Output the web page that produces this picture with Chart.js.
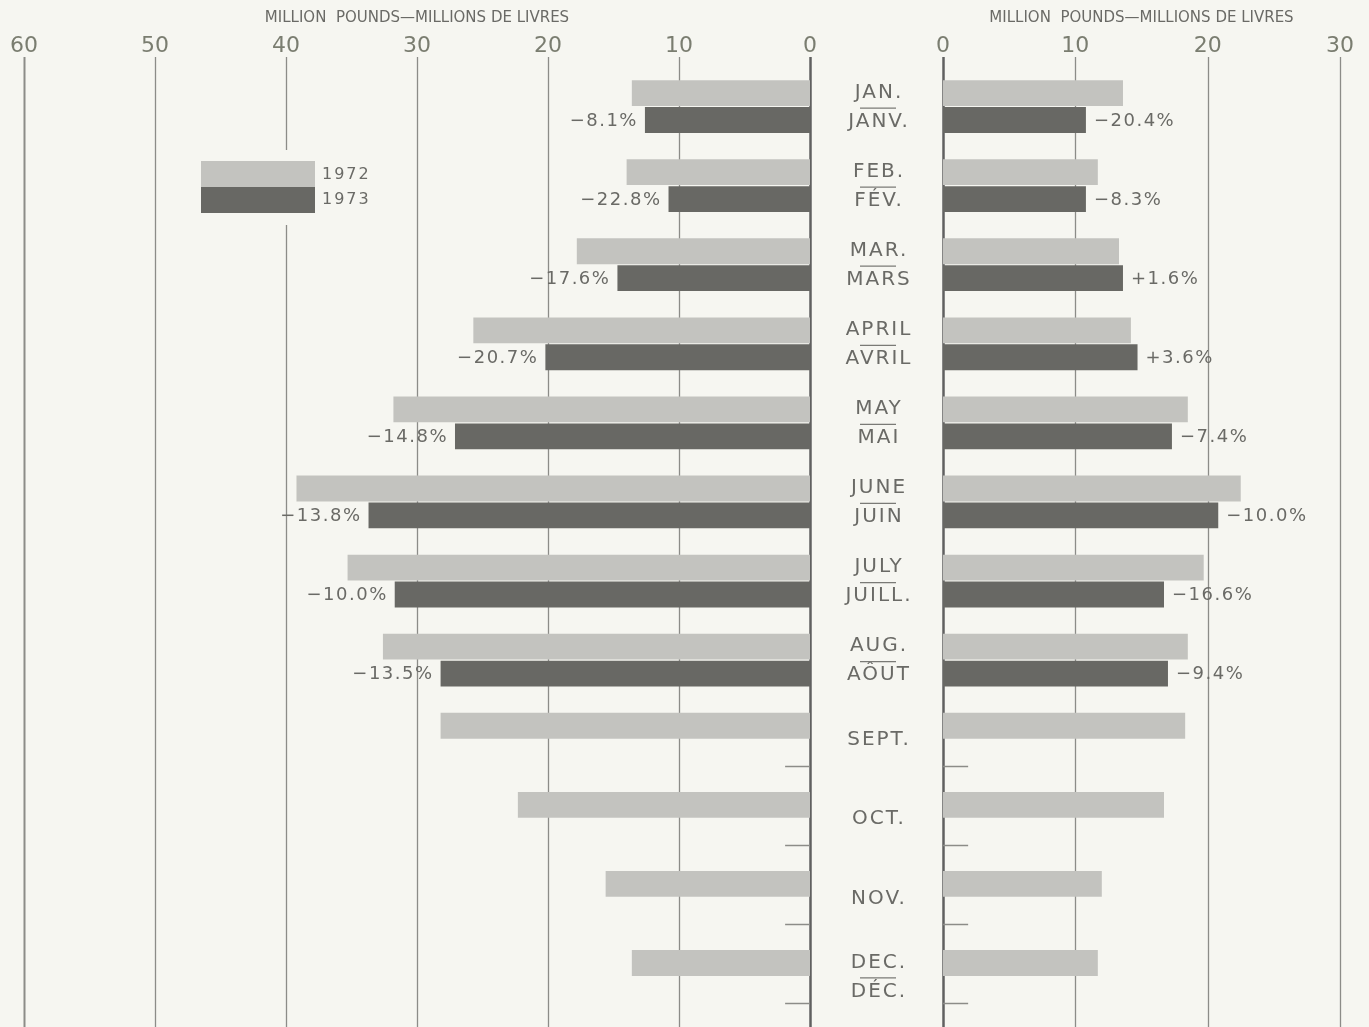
<!DOCTYPE html>
<html>
<head>
<meta charset="utf-8">
<script src="https://cdn.jsdelivr.net/npm/chart.js@4"></script>
<style>
  html, body { margin: 0; padding: 0; background: #f6f6f1; }
  body { width: 1369px; height: 1027px; position: relative; overflow: hidden; }
  canvas { position: absolute; top: 0; }
  #chartLeft { left: 0; }
  #chartRight { left: 876px; }
</style>
</head>
<body>
<canvas id="chartLeft" width="943" height="1027"></canvas>
<canvas id="chartRight" width="493" height="1027"></canvas>
<script>
// data (million pounds)
var monthsEn = ['JAN.', 'FEB.', 'MAR.', 'APRIL', 'MAY', 'JUNE', 'JULY', 'AUG.', 'SEPT.', 'OCT.', 'NOV.', 'DEC.'];
var monthsFr = ['JANV.', 'FÉV.', 'MARS', 'AVRIL', 'MAI', 'JUIN', 'JUILL.', 'AÔUT', '', '', '', 'DÉC.'];

var left1972 = [13.6, 14.0, 17.8, 25.7, 31.8, 39.2, 35.3, 32.6, 28.2, 22.3, 15.6, 13.6];
var left1973 = [12.6, 10.8, 14.7, 20.2, 27.1, 33.7, 31.7, 28.2, null, null, null, null];
var leftPct = ['−8.1%', '−22.8%', '−17.6%', '−20.7%', '−14.8%', '−13.8%', '−10.0%', '−13.5%'];

var right1972 = [13.6, 11.7, 13.3, 14.2, 18.5, 22.5, 19.7, 18.5, 18.3, 16.7, 12.0, 11.7];
var right1973 = [10.8, 10.8, 13.6, 14.7, 17.3, 20.8, 16.7, 17.0, null, null, null, null];
var rightPct = ['−20.4%', '−8.3%', '+1.6%', '+3.6%', '−7.4%', '−10.0%', '−16.6%', '−9.4%'];

var leftTicks = [0, 10, 20, 30, 40, 50, 60];
var rightTicks = [0, 10, 20, 30];
var legendYears = ['1972', '1973'];

var axisTitle = 'MILLION  POUNDS—MILLIONS DE LIVRES';
var light = '#c3c3bf';
var dark = '#686864';
var textCol = '#6a6a66';
var tickCol = '#7a7d70';
var fontFam = '"DejaVu Sans", sans-serif';

// grid lines drawn behind the bars, longer than the plot area
const gridPlugin = {
  id: 'gridPlugin',
  beforeDatasetsDraw(chart, args, opts) {
    const ctx = chart.ctx;
    const x = chart.scales.x;
    ctx.save();
    opts.ticks.forEach(v => {
      const px = Math.round(x.getPixelForValue(v)) + 0.5;
      ctx.beginPath();
      if (v === 0) {
        ctx.strokeStyle = '#606060';
        ctx.lineWidth = 2.5;
      } else {
        ctx.strokeStyle = '#8c8c88';
        ctx.lineWidth = v === 60 ? 2 : 1.3;
      }
      ctx.moveTo(px, 57);
      ctx.lineTo(px, 1027);
      ctx.stroke();
    });
    // short marks where the 1973 bar is missing
    const y = chart.scales.y;
    const band = (y.getPixelForValue(1) - y.getPixelForValue(0));
    ctx.strokeStyle = '#8c8c88';
    ctx.lineWidth = 1.5;
    chart.data.datasets[1].data.forEach((d, i) => {
      if (d === null) {
        const py = Math.round(y.getPixelForValue(i) + band * 0.34) + 0.5;
        ctx.beginPath();
        ctx.moveTo(x.getPixelForValue(0), py);
        ctx.lineTo(x.getPixelForValue(1.9), py);
        ctx.stroke();
      }
    });
    ctx.restore();
  }
};

// percent change beside the 1973 bars
const pctPlugin = {
  id: 'pctPlugin',
  afterDatasetsDraw(chart, args, opts) {
    const ctx = chart.ctx;
    const meta = chart.getDatasetMeta(1);
    ctx.save();
    ctx.font = '18px ' + fontFam;
    ctx.fillStyle = textCol;
    ctx.textBaseline = 'middle';
    ctx.letterSpacing = '1.5px';
    meta.data.forEach((bar, i) => {
      if (!opts.labels[i]) return;
      if (opts.side === 'left') {
        ctx.textAlign = 'right';
        ctx.fillText(opts.labels[i], bar.x - 7, bar.y + 1);
      } else {
        ctx.textAlign = 'left';
        ctx.fillText(opts.labels[i], bar.x + 8, bar.y + 1);
      }
    });
    ctx.restore();
  }
};

// month names in the centre strip and legend box
const monthPlugin = {
  id: 'monthPlugin',
  afterDraw(chart) {
    const ctx = chart.ctx;
    const y = chart.scales.y;
    const cx = 878;
    ctx.save();
    ctx.font = '20px ' + fontFam;
    ctx.fillStyle = textCol;
    ctx.strokeStyle = '#7a7a76';
    ctx.lineWidth = 1.2;
    ctx.textAlign = 'center';
    ctx.textBaseline = 'middle';
    ctx.letterSpacing = '2px';
    monthsEn.forEach((m, i) => {
      const py = y.getPixelForValue(i);
      if (monthsFr[i]) {
        ctx.fillText(m, cx + 1, py - 14);
        ctx.fillText(monthsFr[i], cx + 1, py + 15);
        ctx.beginPath();
        ctx.moveTo(cx - 18, py + 1.5);
        ctx.lineTo(cx + 18, py + 1.5);
        ctx.stroke();
      } else {
        ctx.fillText(m, cx + 1, py + 1);
      }
    });

    // legend
    ctx.fillStyle = '#f6f6f1';
    ctx.fillRect(270, 150, 34, 75);
    ctx.fillStyle = light;
    ctx.fillRect(201, 161, 114, 26);
    ctx.fillStyle = dark;
    ctx.fillRect(201, 187, 114, 26);
    ctx.font = '16px ' + fontFam;
    ctx.letterSpacing = '2px';
    ctx.fillStyle = textCol;
    ctx.textAlign = 'left';
    ctx.fillText(legendYears[0], 322, 175);
    ctx.fillText(legendYears[1], 322, 200);
    ctx.restore();
  }
};

function makeChart(id, d72, d73, maxV, tickList, pctLabels, side, pad, extra) {
  return new Chart(document.getElementById(id), {
    type: 'bar',
    data: {
      labels: monthsEn,
      datasets: [
        { label: legendYears[0], data: d72, backgroundColor: light },
        { label: legendYears[1], data: d73, backgroundColor: dark }
      ]
    },
    options: {
      indexAxis: 'y',
      responsive: false,
      animation: false,
      devicePixelRatio: 1,
      categoryPercentage: 0.68,
      barPercentage: 0.96,
      layout: { padding: pad },
      scales: {
        x: {
          type: 'linear',
          position: 'top',
          reverse: side === 'left',
          min: 0,
          max: maxV,
          afterFit: s => { s.height = 67; },
          border: { display: false },
          grid: { display: false, drawTicks: false },
          ticks: {
            stepSize: 10,
            color: tickCol,
            padding: 8,
            font: { size: 22, family: fontFam }
          },
          title: {
            display: true,
            text: axisTitle,
            color: textCol,
            font: { size: 15, family: fontFam },
            padding: { top: 9, bottom: 0 }
          }
        },
        y: { display: false }
      },
      plugins: {
        legend: { display: false },
        tooltip: { enabled: false },
        gridPlugin: { ticks: tickList },
        pctPlugin: { labels: pctLabels, side: side }
      }
    },
    plugins: [gridPlugin, pctPlugin].concat(extra)
  });
}

makeChart('chartLeft', left1972, left1973, 60, leftTicks, leftPct, 'left',
  { left: 24, right: 133, top: 0, bottom: 11 }, [monthPlugin]);
makeChart('chartRight', right1972, right1973, 30, rightTicks, rightPct, 'right',
  { left: 67, right: 29, top: 0, bottom: 11 }, []);
</script>
</body>
</html>
